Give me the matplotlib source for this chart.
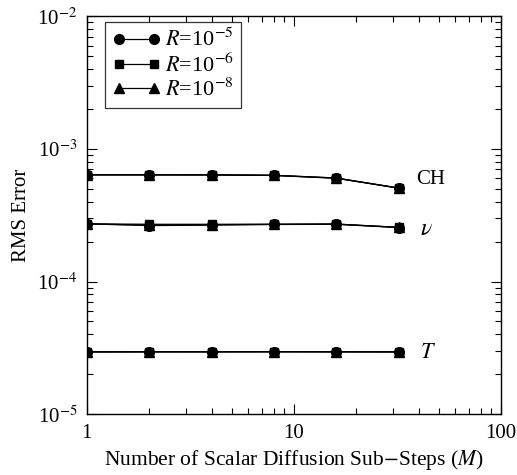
import matplotlib
matplotlib.use('Agg')
import matplotlib.pyplot as plt
from matplotlib.ticker import LogLocator, NullFormatter

plt.rcParams['font.family'] = ['Liberation Serif', 'DejaVu Serif']
plt.rcParams['mathtext.fontset'] = 'stix'

# Data
M = [1, 2, 4, 8, 16, 32]

# R = 1e-5 (circles)
ch_r5 = [6.37e-4, 6.37e-4, 6.36e-4, 6.30e-4, 6.00e-4, 5.06e-4]
v_r5 = [2.72e-4, 2.64e-4, 2.66e-4, 2.69e-4, 2.70e-4, 2.55e-4]
t_r5 = [2.95e-5, 2.95e-5, 2.96e-5, 2.96e-5, 2.95e-5, 2.95e-5]

# R = 1e-6 (squares)
ch_r6 = [6.37e-4, 6.37e-4, 6.37e-4, 6.31e-4, 6.02e-4, 5.06e-4]
v_r6 = [2.72e-4, 2.70e-4, 2.70e-4, 2.70e-4, 2.71e-4, 2.56e-4]
t_r6 = [2.95e-5, 2.95e-5, 2.95e-5, 2.96e-5, 2.95e-5, 2.95e-5]

# R = 1e-8 (triangles)
ch_r8 = [6.37e-4, 6.37e-4, 6.37e-4, 6.32e-4, 6.03e-4, 5.07e-4]
v_r8 = [2.72e-4, 2.66e-4, 2.68e-4, 2.70e-4, 2.71e-4, 2.56e-4]
t_r8 = [2.95e-5, 2.96e-5, 2.95e-5, 2.95e-5, 2.96e-5, 2.95e-5]

series = [
    (r'$R$=10$^{-5}$', 'o', 7.0, [ch_r5, v_r5, t_r5]),
    (r'$R$=10$^{-6}$', 's', 6.0, [ch_r6, v_r6, t_r6]),
    (r'$R$=10$^{-8}$', '^', 6.5, [ch_r8, v_r8, t_r8]),
]

fig = plt.figure(figsize=(5.17, 4.75), dpi=100)
ax = fig.add_axes([0.168, 0.128, 0.801, 0.838])

# draw triangles first, circles last so the circles sit on top
handles = {}
for label, mk, ms, curves in reversed(series):
    for y in curves:
        ln, = ax.plot(M, y, color='black', lw=0.9, marker=mk, markersize=ms)
    handles[label] = ln

ax.set_xscale('log')
ax.set_yscale('log')
ax.set_xlim(1, 100)
ax.set_ylim(1e-5, 1e-2)

ax.xaxis.set_minor_locator(LogLocator(base=10, subs=range(2, 10)))
ax.yaxis.set_minor_locator(LogLocator(base=10, subs=range(2, 10)))
ax.xaxis.set_minor_formatter(NullFormatter())
ax.yaxis.set_minor_formatter(NullFormatter())
ax.set_xticks([1, 10, 100])
ax.set_xticklabels(['1', '10', '100'])
ax.set_yticks([1e-5, 1e-4, 1e-3, 1e-2])
ax.set_yticklabels([r'10$^{-5}$', r'10$^{-4}$', r'10$^{-3}$', r'10$^{-2}$'])

ax.tick_params(which='both', direction='in', top=True, right=True,
               labelsize=15, width=0.8)
ax.tick_params(which='major', length=7, pad=7)
ax.tick_params(which='minor', length=4)
for s in ax.spines.values():
    s.set_linewidth(1.0)

ax.set_xlabel(r'Number of Scalar Diffusion Sub$-$Steps ($M$)', fontsize=15.5)
ax.set_ylabel('RMS Error', fontsize=15)

ax.text(39, 5.85e-4, 'CH', fontsize=15, va='center')
ax.text(40.5, 2.45e-4, r'$\nu$', fontsize=17, va='center')
ax.text(40.5, 2.85e-5, r'$T$', fontsize=16, va='center')

labels = [s[0] for s in series]
leg = ax.legend([handles[l] for l in labels], labels,
                loc='upper left', bbox_to_anchor=(0.045, 0.985),
                fontsize=16, frameon=True, fancybox=False, numpoints=2,
                handlelength=2.2, handletextpad=0.2, borderpad=0.3,
                labelspacing=0.1, borderaxespad=0)
leg.get_frame().set_edgecolor('black')
leg.get_frame().set_linewidth(0.9)

plt.savefig('out.png', dpi=100)
